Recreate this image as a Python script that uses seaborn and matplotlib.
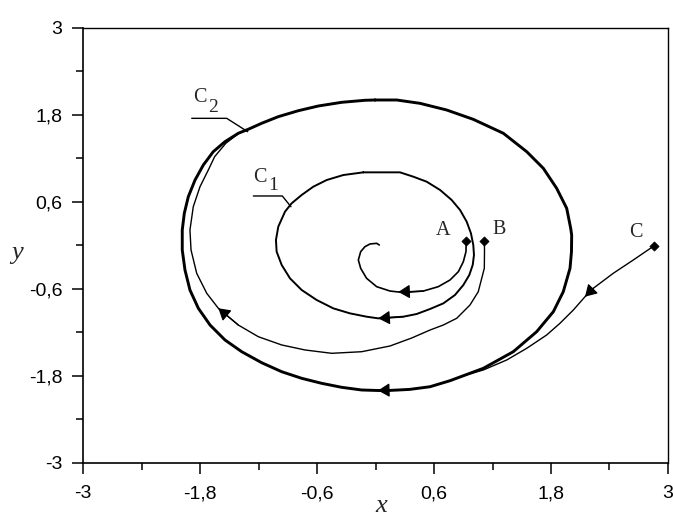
import matplotlib
matplotlib.use("Agg")
import matplotlib.pyplot as plt
import pandas as pd
import seaborn as sns

# Phase trajectories of the planar system, each listed in the direction of motion.
# Trajectory from A: spirals inward to the stable focus at the origin.
traj_a_x = [0.930, 0.928, 0.901, 0.850, 0.764, 0.644, 0.491, 0.320, 0.234, 0.149, 0.012, -0.091,
            -0.152, -0.176, -0.152, -0.108, -0.056, 0.012, 0.039]
traj_a_y = [0.060, -0.085, -0.223, -0.361, -0.476, -0.568, -0.628, -0.646, -0.641, -0.628, -0.568,
            -0.453, -0.315, -0.200, -0.085, -0.016, 0.021, 0.030, 0.007]

# Trajectory from B: winds outward onto the outer cycle C2.
traj_b_x = [1.116, 1.118, 1.116, 1.054, 0.969, 0.833, 0.695, 0.559, 0.371, 0.149, -0.142, -0.449,
            -0.723, -0.962, -1.202, -1.407, -1.612, -1.731, -1.834, -1.892, -1.903, -1.869, -1.800,
            -1.715, -1.650, -1.535, -1.405]
traj_b_y = [0.062, -0.062, -0.315, -0.637, -0.821, -1.004, -1.097, -1.166, -1.276, -1.386, -1.465,
            -1.487, -1.441, -1.372, -1.258, -1.097, -0.866, -0.659, -0.383, -0.062, 0.214, 0.535,
            0.811, 1.041, 1.225, 1.410, 1.545]

# Trajectory from C: approaches C2 from outside.
traj_c_x = [2.859, 2.644, 2.439, 2.234, 2.149, 2.029, 1.892, 1.756, 1.551, 1.346, 1.106, 0.867]
traj_c_y = [-0.003, -0.200, -0.383, -0.590, -0.706, -0.890, -1.073, -1.234, -1.418, -1.579, -1.717,
            -1.810]

# Inner limit cycle C1 (clockwise).
cycle1_x = [-0.125, 0.251, 0.388, 0.525, 0.662, 0.781, 0.867, 0.935, 0.979, 1.003, 1.010, 0.997,
            0.962, 0.901, 0.815, 0.696, 0.559, 0.422, 0.285, 0.029, -0.091, -0.262, -0.433, -0.603,
            -0.757, -0.877, -0.962, -1.014, -1.021, -0.997, -0.928, -0.860, -0.757, -0.638, -0.501,
            -0.330, -0.125]
cycle1_y = [1.009, 1.009, 0.949, 0.880, 0.766, 0.628, 0.490, 0.329, 0.168, 0.007, -0.131, -0.269,
            -0.407, -0.545, -0.683, -0.798, -0.876, -0.945, -0.982, -1.005, -0.982, -0.936, -0.867,
            -0.752, -0.614, -0.453, -0.269, -0.085, 0.076, 0.260, 0.467, 0.582, 0.697, 0.811, 0.903,
            0.972, 1.009]

# Outer limit cycle C2 (clockwise).
cycle2_x = [-0.005, 0.217, 0.456, 0.730, 1.003, 1.311, 1.551, 1.721, 1.858, 1.961, 2.002, 2.012,
            2.010, 1.995, 1.926, 1.824, 1.653, 1.413, 1.106, 0.764, 0.559, 0.350, 0.131, 0.026,
            -0.142, -0.347, -0.552, -0.757, -0.962, -1.167, -1.372, -1.544, -1.697, -1.817, -1.903,
            -1.954, -1.982, -1.982, -1.961, -1.920, -1.851, -1.766, -1.664, -1.544, -1.407, -1.305,
            -1.167, -0.997, -0.792, -0.587, -0.347, -0.108, -0.005]
cycle2_y = [2.007, 2.007, 1.961, 1.869, 1.740, 1.548, 1.294, 1.065, 0.789, 0.513, 0.237, 0.145,
            -0.085, -0.315, -0.637, -0.913, -1.189, -1.465, -1.694, -1.865, -1.948, -1.985, -2.000,
            -2.000, -1.993, -1.956, -1.901, -1.832, -1.741, -1.617, -1.465, -1.303, -1.097, -0.866,
            -0.614, -0.338, -0.062, 0.214, 0.444, 0.673, 0.903, 1.110, 1.294, 1.432, 1.548, 1.603,
            1.686, 1.777, 1.859, 1.924, 1.975, 2.003, 2.007]

start_labels = ["A", "B", "C"]
cycle_labels = [("C", "1"), ("C", "2")]

tick_values = [-3, -1.8, -0.6, 0.6, 1.8, 3]
tick_labels = ["-3", "-1,8", "-0,6", "0,6", "1,8", "3"]
minor_ticks = [-2.4, -1.2, 0, 1.2, 2.4]

sns.set_theme(style="ticks")
plt.rcParams.update({
    "font.family": ["Liberation Sans", "DejaVu Sans"],
    "axes.linewidth": 1.2,
    "axes.edgecolor": "black",
    "xtick.color": "black",
    "ytick.color": "black",
    "xtick.major.size": 8,
    "ytick.major.size": 8,
    "xtick.minor.size": 5,
    "ytick.minor.size": 5,
    "xtick.major.width": 1.1,
    "ytick.major.width": 1.1,
    "xtick.minor.width": 1.1,
    "ytick.minor.width": 1.1,
    "lines.solid_joinstyle": "round",
})

fig = plt.figure(figsize=(6.73, 5.18), dpi=100)
ax = fig.add_axes([0.12333, 0.10618, 0.86924, 0.83977])

curves = [
    (cycle2_x, cycle2_y, 2.1),
    (cycle1_x, cycle1_y, 1.4),
    (traj_a_x, traj_a_y, 1.2),
    (traj_b_x, traj_b_y, 1.0),
    (traj_c_x, traj_c_y, 1.0),
]
for xs, ys, lw in curves:
    df = pd.DataFrame({"x": xs, "y": ys})
    sns.lineplot(data=df, x="x", y="y", sort=False, estimator=None,
                 color="black", linewidth=lw, ax=ax)

# direction arrows along the curves: (curve, head vertex, tail vertex)
arrow_spots = [
    (traj_a_x, traj_a_y, 8, 6),
    (cycle1_x, cycle1_y, 19, 18),
    (cycle2_x, cycle2_y, 23, 21),
    (traj_b_x, traj_b_y, 16, 15),
    (traj_c_x, traj_c_y, 4, 3),
]
for xs, ys, head, tail in arrow_spots:
    ax.annotate("", xy=(xs[head], ys[head]), xytext=(xs[tail], ys[tail]),
                arrowprops=dict(arrowstyle="-|>,head_length=1.0,head_width=0.6",
                                color="black", lw=0.9, shrinkA=0, shrinkB=0,
                                mutation_scale=7))

# starting points A, B, C
starts_x = [traj_a_x[0], traj_b_x[0], traj_c_x[0]]
starts_y = [traj_a_y[0], traj_b_y[0], traj_c_y[0]]
sns.scatterplot(x=starts_x, y=starts_y, marker="D", s=22, color="black",
                edgecolor="black", linewidth=0.5, ax=ax, zorder=5)
label_offsets = [(-16.5, 7.5), (11, 8), (-13.5, 9.5)]
for name, sx, sy, off in zip(start_labels, starts_x, starts_y, label_offsets):
    ax.annotate(name, xy=(sx, sy), xytext=off, textcoords="offset points",
                ha="center", va="center", fontsize=14.5, family="Liberation Serif")

# cycle labels with leader lines
serif = "Liberation Serif"
leader_c2 = ([-1.885, -1.526, -1.311], [1.754, 1.754, 1.570])
leader_c1 = ([-1.253, -0.956, -0.867], [0.683, 0.683, 0.535])
ax.plot(*leader_c2, color="black", lw=1.0)
ax.plot(*leader_c1, color="black", lw=1.0)
for (letter, sub), (lx, ly), (sx, sy) in zip(
        cycle_labels,
        [(-1.256, 0.876), (-1.872, 1.979)],
        [(-1.103, 0.766), (-1.718, 1.841)]):
    ax.text(lx, ly, letter, fontsize=14.5, family=serif, ha="left", va="baseline")
    ax.text(sx, sy, sub, fontsize=14, family=serif, ha="left", va="baseline")

ax.set_xlim(-3, 3)
ax.set_ylim(-3, 3)
ax.set_xticks(tick_values)
ax.set_xticklabels(tick_labels)
ax.set_yticks(tick_values)
ax.set_yticklabels(tick_labels)
ax.set_xticks(minor_ticks, minor=True)
ax.set_yticks(minor_ticks, minor=True)
ax.tick_params(axis="both", which="both", direction="out", labelsize=14)
ax.tick_params(axis="x", which="major", pad=8)
ax.tick_params(axis="y", which="major", pad=7)
for side in ["top", "right"]:
    ax.spines[side].set_visible(True)
    ax.spines[side].set_linewidth(1.0)

ax.set_xlabel("x", fontsize=19, family=serif, style="italic", va="baseline")
ax.xaxis.set_label_coords(0.509, -0.113)
ax.set_ylabel("y", fontsize=19, family=serif, style="italic", rotation=0,
              ha="center", va="baseline")
ax.yaxis.set_label_coords(-0.112, 0.469)

fig.savefig("out.png", dpi=100)
